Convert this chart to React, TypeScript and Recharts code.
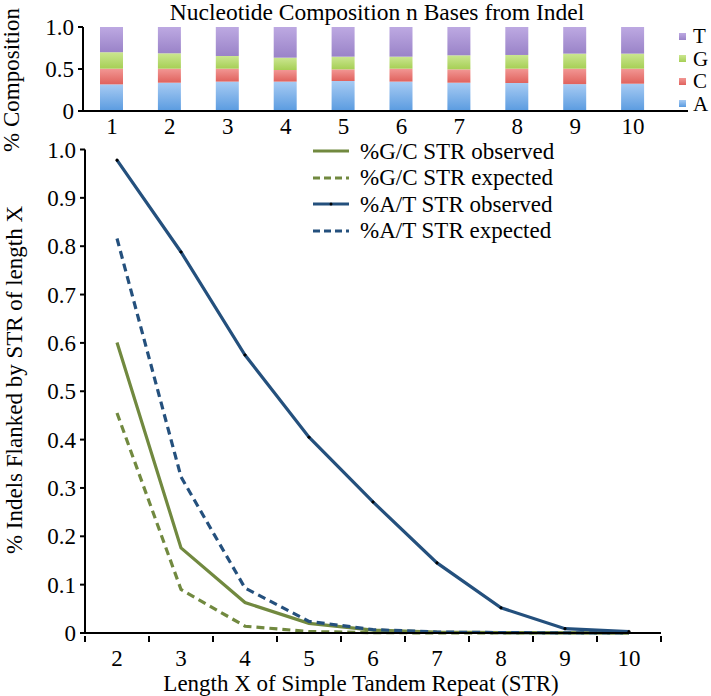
import React from 'react';
import {
  BarChart, Bar, LineChart, Line, XAxis, YAxis, Legend,
} from 'recharts';

// top panel: base composition at positions 1..10 from the indel
const POSITIONS = ['1', '2', '3', '4', '5', '6', '7', '8', '9', '10'];
const SHARE_A = [0.317, 0.337, 0.35, 0.35, 0.357, 0.35, 0.337, 0.333, 0.32, 0.325];
const SHARE_C = [0.187, 0.167, 0.154, 0.138, 0.139, 0.154, 0.159, 0.171, 0.184, 0.179];
const SHARE_G = [0.196, 0.183, 0.151, 0.147, 0.151, 0.143, 0.167, 0.163, 0.179, 0.179];
const SHARE_T = [0.3, 0.313, 0.345, 0.365, 0.353, 0.353, 0.337, 0.333, 0.317, 0.317];
const COMP_TICKS = [0, 0.5, 1];

// bottom panel: fraction of indels flanked by an STR of length X
const LENGTHS = [2, 3, 4, 5, 6, 7, 8, 9, 10];
const GC_OBSERVED = [0.601, 0.176, 0.063, 0.02, 0.006, 0.002, 0.001, 0.0005, 0.0003];
const GC_EXPECTED = [0.455, 0.09, 0.014, 0.003, 0.0008, 0.0002, 0.0001, 0, 0];
const AT_OBSERVED = [0.978, 0.788, 0.575, 0.405, 0.271, 0.145, 0.052, 0.009, 0.003];
const AT_EXPECTED = [0.816, 0.323, 0.093, 0.024, 0.007, 0.002, 0.0008, 0.0003, 0.0001];
const INDEL_TICKS = [0, 0.1, 0.2, 0.3, 0.4, 0.5, 0.6, 0.7, 0.8, 0.9, 1];

const FONT = '"Liberation Serif", "Times New Roman", serif';
const GREEN = '#71893f';
const NAVY = '#24507d';
const TICK_FONT = 23;

const BASES = [
  { key: 'A', top: '#a7cbf3', bottom: '#5a9be0' },
  { key: 'C', top: '#f29794', bottom: '#e0625d' },
  { key: 'G', top: '#cbe690', bottom: '#a6cf55' },
  { key: 'T', top: '#bda9e2', bottom: '#9a83c8' },
];

const SERIES = [
  { key: 'gcObs', name: '%G/C STR observed', color: GREEN, dash: undefined, dots: false },
  { key: 'gcExp', name: '%G/C STR expected', color: GREEN, dash: '8 5', dots: false },
  { key: 'atObs', name: '%A/T STR observed', color: NAVY, dash: undefined, dots: true },
  { key: 'atExp', name: '%A/T STR expected', color: NAVY, dash: '8 5', dots: false },
];

const compData = POSITIONS.map((p, i) => ({
  pos: p, A: SHARE_A[i], C: SHARE_C[i], G: SHARE_G[i], T: SHARE_T[i],
}));

const lineData = LENGTHS.map((x, i) => ({
  x,
  gcObs: GC_OBSERVED[i],
  gcExp: GC_EXPECTED[i],
  atObs: AT_OBSERVED[i],
  atExp: AT_EXPECTED[i],
}));

const fmt = (v: number) => (v === 0 ? '0' : v.toFixed(1));

function BaseLegend() {
  return (
    <div style={{ fontFamily: FONT, fontSize: 21, lineHeight: '22.5px' }}>
      {[...BASES].reverse().map((b) => (
        <div key={b.key} style={{ display: 'flex', alignItems: 'center' }}>
          <span style={{
            width: 7, height: 7, marginRight: 7,
            background: `linear-gradient(${b.top}, ${b.bottom})`,
          }} />
          <span>{b.key}</span>
        </div>
      ))}
    </div>
  );
}

function SeriesLegend() {
  return (
    <div style={{ fontFamily: FONT, fontSize: 23 }}>
      {SERIES.map((s) => (
        <div key={s.key} style={{ display: 'flex', alignItems: 'center', height: 26.5 }}>
          <svg width={36} height={10} style={{ marginRight: 11 }}>
            <line x1={0} y1={5} x2={36} y2={5} stroke={s.color} strokeWidth={3}
              strokeDasharray={s.dash ? '7 4' : undefined} />
            {s.dots && <circle cx={18} cy={5} r={1.5} fill="#000" />}
          </svg>
          <span style={{ lineHeight: 1 }}>{s.name}</span>
        </div>
      ))}
    </div>
  );
}

// ticks sit between categories, labels in the middle of each slot
function LengthTick(props: any) {
  const { x, y, payload, index, width } = props;
  const half = (width ?? 576) / (LENGTHS.length * 2);
  const last = index === LENGTHS.length - 1;
  return (
    <g>
      <line x1={x - half} y1={y - 14} x2={x - half} y2={y - 8} stroke="#000" strokeWidth={2} />
      {last && <line x1={x + half} y1={y - 14} x2={x + half} y2={y - 8} stroke="#000" strokeWidth={2} />}
      <text x={x} y={y} dy="0.71em" textAnchor="middle" fontSize={TICK_FONT} fontFamily={FONT} fill="#000">
        {payload.value}
      </text>
    </g>
  );
}

export default function App() {
  return (
    <div style={{
      position: 'absolute', left: 0, top: 0, width: 711, height: 696,
      background: '#fff', fontFamily: FONT, color: '#000', overflow: 'hidden',
    }}>
      <div style={{
        position: 'absolute', left: 83, width: 588, top: 0, textAlign: 'center',
        fontSize: 23.5, whiteSpace: 'nowrap', lineHeight: '24px',
      }}>
        Nucleotide Composition n Bases from Indel
      </div>

      <div style={{ position: 'absolute', left: 0, top: 0 }}>
        <BarChart width={711} height={150} data={compData} barSize={23}
          margin={{ top: 27, right: 23, bottom: 0, left: 0 }}>
          <defs>
            {BASES.map((b) => (
              <linearGradient key={b.key} id={`grad${b.key}`} x1="0" y1="0" x2="0" y2="1">
                <stop offset="0%" stopColor={b.top} />
                <stop offset="100%" stopColor={b.bottom} />
              </linearGradient>
            ))}
          </defs>
          <XAxis dataKey="pos" height={39} tickSize={0} tickMargin={7}
            padding={{ left: 0, right: 26 }}
            axisLine={{ stroke: '#000', strokeWidth: 2 }}
            tick={{ fontSize: TICK_FONT, fontFamily: FONT, fill: '#000' }} />
          <YAxis width={83} domain={[0, 1]} ticks={COMP_TICKS} tickFormatter={fmt}
            tickSize={5} tickMargin={4}
            axisLine={{ stroke: '#000', strokeWidth: 2 }} tickLine={{ stroke: '#000', strokeWidth: 2 }}
            tick={{ fontSize: TICK_FONT, fontFamily: FONT, fill: '#000' }} />
          {BASES.map((b) => (
            <Bar key={b.key} dataKey={b.key} stackId="s" fill={`url(#grad${b.key})`}
              isAnimationActive={false} />
          ))}
          <Legend layout="vertical" align="center" verticalAlign="middle"
            content={() => <BaseLegend />}
            wrapperStyle={{ position: 'absolute', left: 679, top: 25, width: 32, height: 92 }} />
        </BarChart>
      </div>

      <div style={{ position: 'absolute', left: 0, top: 128 }}>
        <LineChart width={711} height={568} data={lineData}
          margin={{ top: 21.5, right: 50, bottom: 0, left: 0 }}>
          <XAxis dataKey="x" type="number" domain={[1.5, 10.5]} ticks={LENGTHS}
            height={63} tickLine={false} tickSize={0} tickMargin={17}
            axisLine={{ stroke: '#000', strokeWidth: 2 }}
            tick={<LengthTick />} />
          <YAxis width={85} domain={[0, 1]} ticks={INDEL_TICKS} tickFormatter={fmt}
            tickSize={5} tickMargin={4} interval={0}
            axisLine={{ stroke: '#000', strokeWidth: 2 }} tickLine={{ stroke: '#000', strokeWidth: 2 }}
            tick={{ fontSize: TICK_FONT, fontFamily: FONT, fill: '#000' }} />
          {SERIES.map((s) => (
            <Line key={s.key} dataKey={s.key} name={s.name} type="linear"
              stroke={s.color} strokeWidth={3.2} strokeDasharray={s.dash}
              dot={s.dots ? { r: 1.3, fill: '#000', stroke: '#000', strokeWidth: 0.5 } : false}
              activeDot={false} isAnimationActive={false} />
          ))}
          <Legend layout="vertical" align="center" verticalAlign="middle"
            content={() => <SeriesLegend />}
            wrapperStyle={{ position: 'absolute', left: 313, top: 10, width: 320, height: 106 }} />
        </LineChart>
      </div>

      <div style={{
        position: 'absolute', left: 73, width: 576, top: 671, textAlign: 'center',
        fontSize: 23, whiteSpace: 'nowrap', lineHeight: '25px',
      }}>
        Length X of Simple Tandem Repeat (STR)
      </div>

      <div style={{
        position: 'absolute', left: 12, top: 80, width: 0, height: 0,
      }}>
        <div style={{
          position: 'absolute', transform: 'translate(-50%, -50%) rotate(-90deg)',
          fontSize: 23, whiteSpace: 'nowrap', lineHeight: '24px',
        }}>% Composition</div>
      </div>
      <div style={{
        position: 'absolute', left: 15, top: 380, width: 0, height: 0,
      }}>
        <div style={{
          position: 'absolute', transform: 'translate(-50%, -50%) rotate(-90deg)',
          fontSize: 23, whiteSpace: 'nowrap', lineHeight: '24px',
        }}>% Indels Flanked by STR of length X</div>
      </div>
    </div>
  );
}
